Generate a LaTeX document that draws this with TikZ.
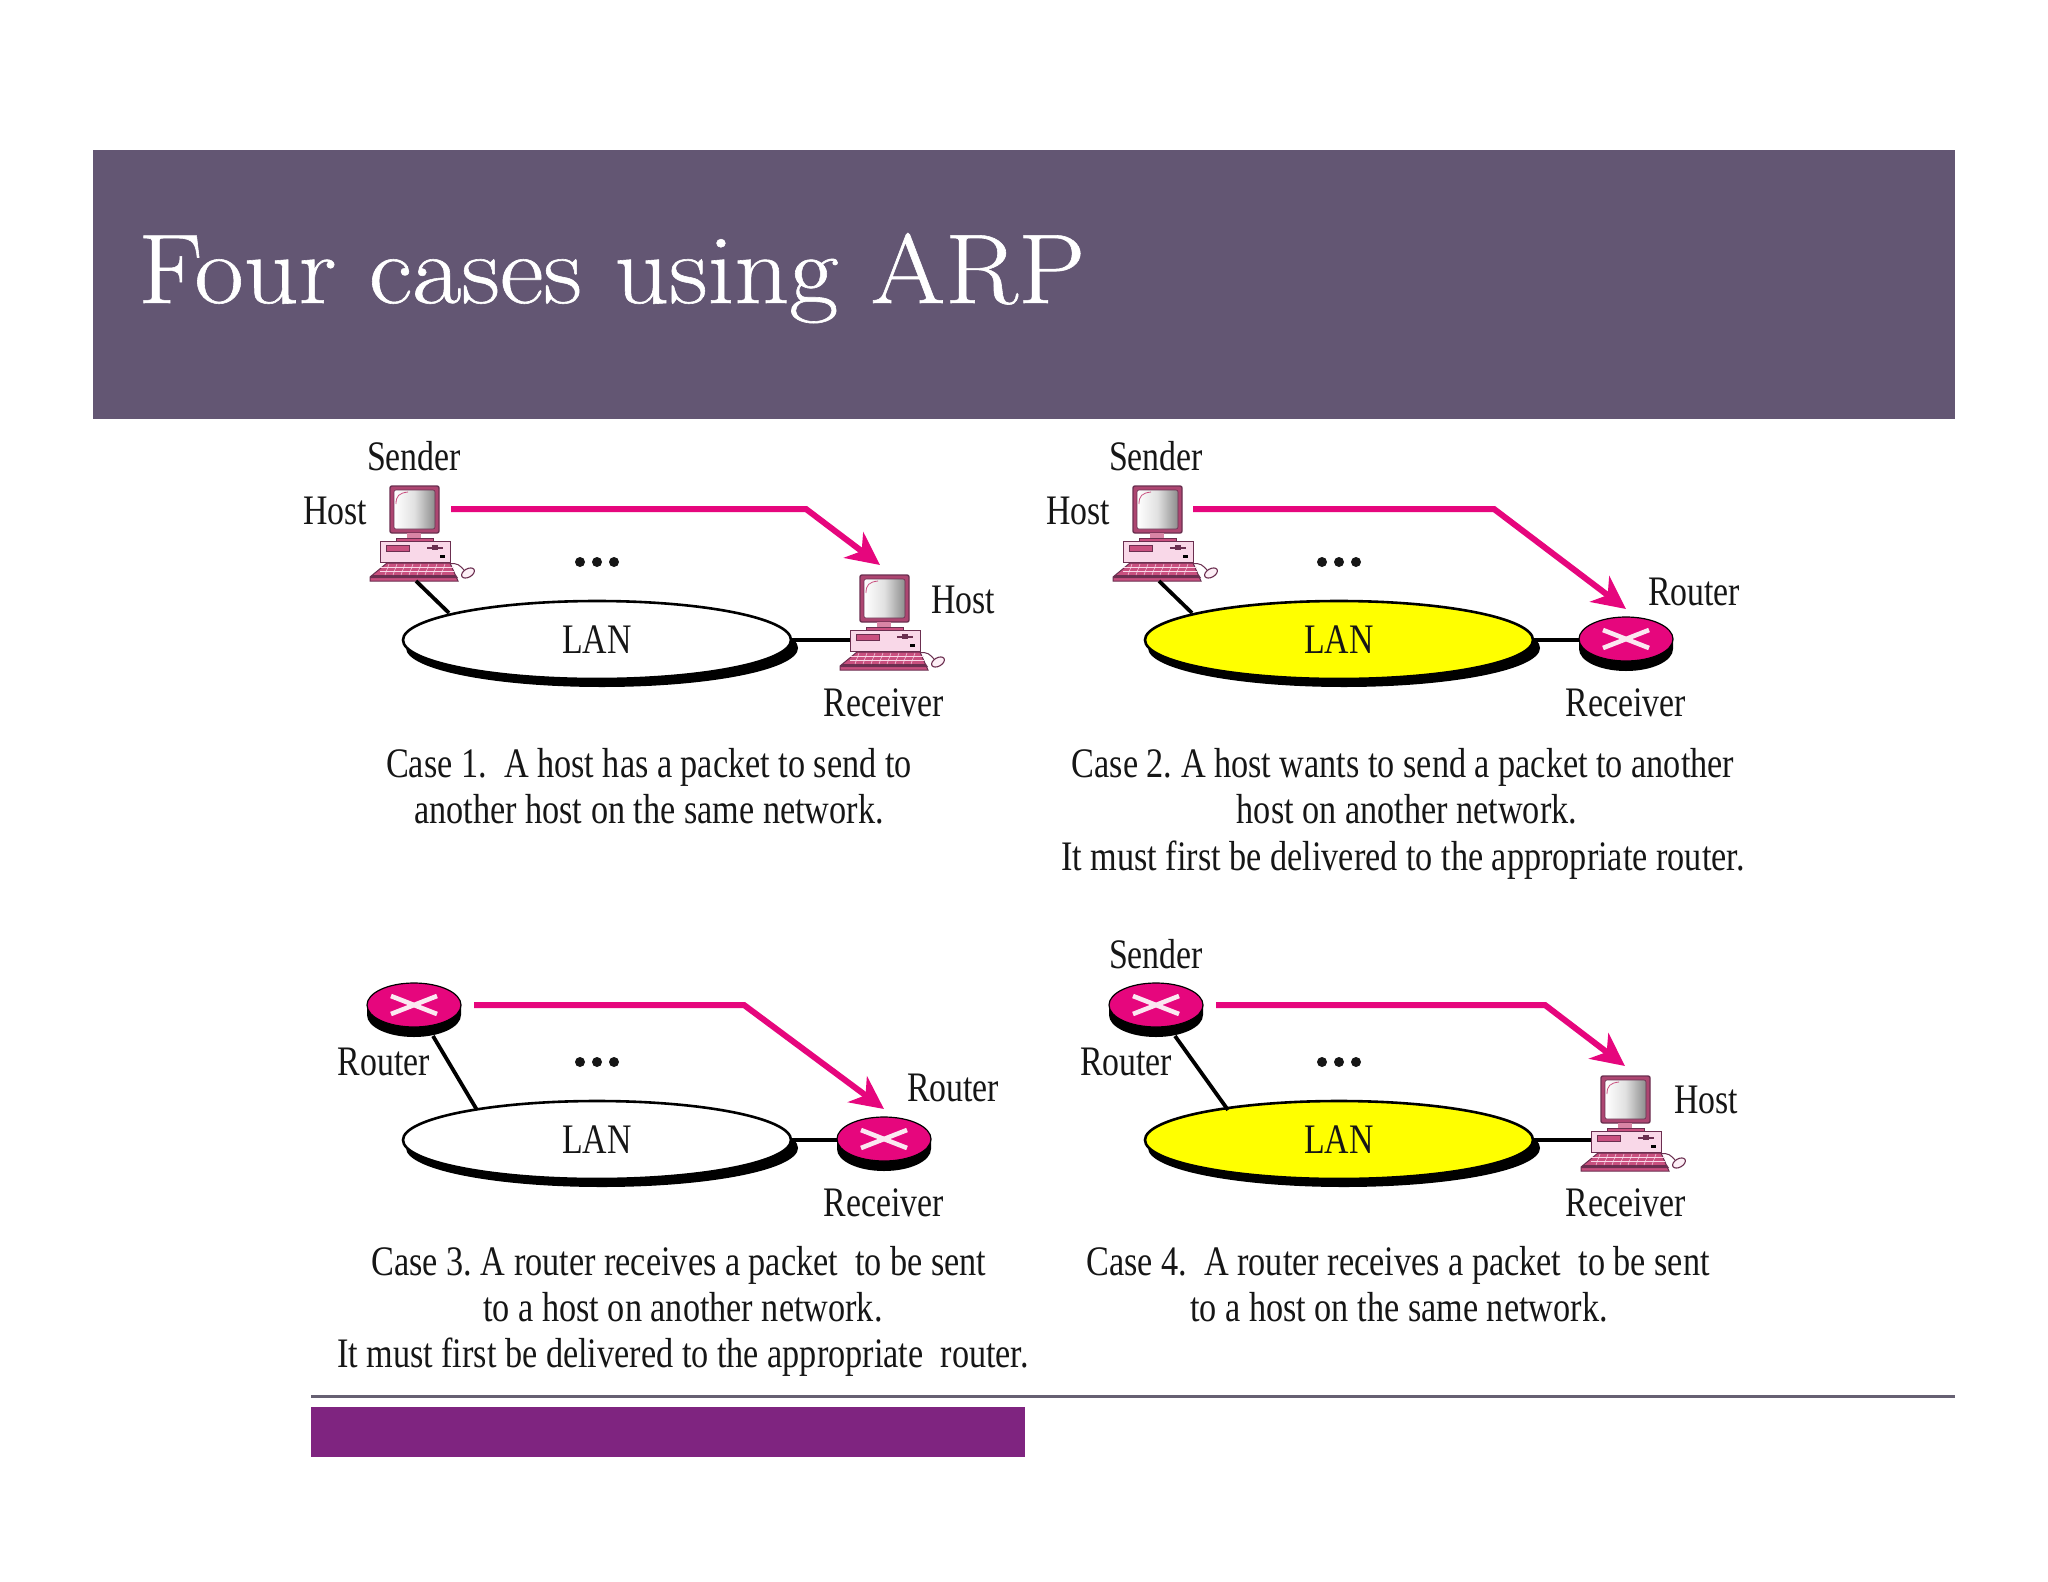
\documentclass[tikz,border=0pt]{standalone}
\usepackage{fontspec}
\usetikzlibrary{arrows.meta,shapes.geometric}
\newfontfamily\bodyf[FakeStretch=0.805]{Liberation Serif}
\newfontfamily\captf[FakeStretch=0.815]{Liberation Serif}
\newfontfamily\titlef[FakeStretch=1.083,FakeBold=0.6]{Latin Modern Roman}
\definecolor{banner}{HTML}{635673}
\definecolor{footbar}{HTML}{7F2480}
\definecolor{footline}{HTML}{666072}
\definecolor{hot}{HTML}{E6067D}
\definecolor{pcline}{HTML}{6B2F50}
\definecolor{pcbody}{HTML}{F9D8E8}
\definecolor{pcdark}{HTML}{C9507F}
\definecolor{ink}{HTML}{161616}
\definecolor{lanyellow}{HTML}{FFFF00}
\tikzset{
  x=1pt,y=-1pt,
  lbl/.style={font=\bodyf\fontsize{42}{46}\selectfont,text=ink,anchor=base,inner sep=0pt},
  captext/.style={font=\captf\fontsize{42}{46}\selectfont\frenchspacing,text=ink,anchor=base,inner sep=0pt},
  lanw/.style={ellipse,draw=black,line width=2.6pt,fill=white,minimum width=388pt,minimum height=78pt,inner sep=0pt,
     font=\bodyf\fontsize{42}{46}\selectfont,text=ink},
  lany/.style={lanw,fill=lanyellow},
  lanshadow/.style={ellipse,fill=black,minimum width=392pt,minimum height=78pt,inner sep=0pt},
  wire/.style={draw=black,line width=3.8pt},
  send/.style={draw=hot,line width=6pt,-{Stealth[length=33pt,width=32pt,inset=10pt]},line join=miter},
  computer/.pic={
    % mouse and cable
    \draw[pcline,line width=1pt] (58,78) .. controls (68,76) and (70,80) .. (74,84);
    \draw[pcline,line width=1.1pt,fill=pcbody!40] (78,87) ellipse [x radius=7,y radius=4.2,rotate=30];
    % monitor
    \draw[pcline,line width=1.4pt,fill=pcdark!70!pcline,rounded corners=2pt] (0,0) rectangle (49,47);
    \draw[pcline,line width=.6pt,left color=white,right color=black!45,middle color=black!12,rounded corners=2pt] (4,4) rectangle (45,43);
    \draw[pcdark,line width=.8pt] (6,18) .. controls (6,10) and (9,7) .. (18,6);
    \fill[pcdark!70] (17,47) rectangle (31,52);
    \draw[pcline,line width=.8pt,fill=pcdark] (6,52) rectangle (43,55);
    % case
    \draw[pcline,line width=1pt,fill=pcbody] (-10,55) rectangle (60,76);
    \draw[pcline,line width=.6pt,fill=pcdark] (-4,59) rectangle (19,65);
    \fill[pcline] (37,60.5) rectangle (53,62.5);
    \fill[pcline] (42,59) rectangle (48,64);
    \fill[black] (50,69) rectangle (55,72);
    % keyboard
    \draw[pcline,line width=1pt,fill=pcdark] (-3,77) -- (60,77) -- (68,95) -- (-20,95) -- (-20,91) -- cycle;
    \fill[pcline] (-18,89) -- (66,89) -- (68,92) -- (-20,92) -- cycle;
    \foreach \kv in {81,85}{\draw[pcbody,line width=.6pt] (-10,\kv) -- (64,\kv);}
    \foreach \kx in {0,8,...,56}{\draw[pcbody,line width=.5pt] (\kx-1,78) -- (\kx-5,89);}
    \coordinate (-bot) at (26,95);
    \coordinate (-left) at (-10,65);
    \coordinate (-top) at (20,-10);
  },
  router/.pic={
    \fill[black] (-47,0) -- (-47,10) arc[start angle=180,end angle=360,x radius=47,y radius=-22] -- (47,0) -- cycle;
    \draw[black,line width=1.2pt,fill=hot] (0,0) ellipse [x radius=47,y radius=22];
    \draw[pcbody!60,line width=4.6pt] (-23,-9) -- (23,9) (-23,9) -- (23,-9);
    \coordinate (-left) at (-47,0);
    \coordinate (-bot) at (19,31);
  },
}
\begin{document}
\begin{tikzpicture}
\useasboundingbox (0,0) rectangle (2048,1582);
\fill[white] (0,0) rectangle (2048,1582);
% slide frame
\node[fill=banner,minimum width=1862pt,minimum height=269pt,inner sep=0pt,anchor=north west] (header) at (93,150) {};
\node[anchor=base west,inner sep=0pt,text=white,font=\titlef\fontsize{99}{110}\selectfont] (title) at (138,303) {Four cases using ARP};
\coordinate (fl) at (311,1396);
\coordinate (fr) at (1955,1396);
\draw[footline,line width=3pt] (fl) -- (fr);
\node[fill=footbar,minimum width=714pt,minimum height=50pt,inner sep=0pt,anchor=north west] (footer) at (310.5,1407) {};

% LAN shadows and LANs
\node[lanshadow] (sh1) at (602,648) {};
\node[lanshadow] (sh2) at (1344,648) {};
\node[lanshadow] (sh3) at (602,1148) {};
\node[lanshadow] (sh4) at (1344,1148) {};

% devices
\pic (c1s) at (390,486) {computer};
\pic (c1r) at (860,575) {computer};
\pic (c2s) at (1133,486) {computer};
\pic (c2r) at (1626,639) {router};
\pic (c3s) at (414,1005) {router};
\pic (c3r) at (884,1139) {router};
\pic (c4s) at (1156,1005) {router};
\pic (c4r) at (1601,1076) {computer};

\node[lanw] (lan1) at (597,640) {\raisebox{-3pt}{LAN}};
\node[lany] (lan2) at (1339,640) {\raisebox{-3pt}{LAN}};
\node[lanw] (lan3) at (597,1140) {\raisebox{-3pt}{LAN}};
\node[lany] (lan4) at (1339,1140) {\raisebox{-3pt}{LAN}};

\coordinate (w1) at (449,613);
\coordinate (w2) at (1192,613);
\coordinate (w3) at (477,1110);
\coordinate (w4) at (1228,1110);
\draw[wire] (c1s-bot) -- (w1);
\draw[wire] (c2s-bot) -- (w2);
\draw[wire] (c3s-bot) -- (w3);
\draw[wire] (c4s-bot) -- (w4);
\draw[wire] (lan1.east) -- (c1r-left |- lan1.east);
\draw[wire] (lan2.east) -- (c2r-left |- lan2.east);
\draw[wire] (lan3.east) -- (c3r-left |- lan3.east);
\draw[wire] (lan4.east) -- (c4r-left |- lan4.east);

% arrows
\coordinate (a1s) at (451,509); \coordinate (a1m) at (806,509); \coordinate (a1t) at (880,565);
\coordinate (a2s) at (1193,509); \coordinate (a2m) at (1494,509); \coordinate (a2t) at (1626,609);
\coordinate (a3s) at (474,1005); \coordinate (a3m) at (744,1005); \coordinate (a3t) at (884,1109);
\coordinate (a4s) at (1216,1005); \coordinate (a4m) at (1545,1005); \coordinate (a4t) at (1625,1066);
\draw[send] (a1s) -- (a1m) -- (a1t);
\draw[send] (a2s) -- (a2m) -- (a2t);
\draw[send] (a3s) -- (a3m) -- (a3t);
\draw[send] (a4s) -- (a4m) -- (a4t);

% ellipsis dots
\foreach \dx/\dy in {597/562,1339/562,597/1062,1339/1062}{
  \fill[ink] (\dx-17,\dy) circle (5) (\dx,\dy) circle (5) (\dx+17,\dy) circle (5);
}

% labels
\node[lbl] (t1a) at (414,470) {Sender};
\node[lbl] (t1b) at (335,524) {Host};
\node[lbl] (t1c) at (963,613) {Host};
\node[lbl] (t1d) at (884,716) {Receiver};
\node[lbl] (t2a) at (1156,470) {Sender};
\node[lbl] (t2b) at (1078,524) {Host};
\node[lbl] (t2c) at (1694,605) {Router};
\node[lbl] (t2d) at (1626,716) {Receiver};
\node[lbl] (t3a) at (384,1075) {Router};
\node[lbl] (t3b) at (953,1101) {Router};
\node[lbl] (t3c) at (884,1216) {Receiver};
\node[lbl] (t4a) at (1156,968) {Sender};
\node[lbl] (t4b) at (1126,1075) {Router};
\node[lbl] (t4c) at (1706,1113) {Host};
\node[lbl] (t4d) at (1626,1216) {Receiver};

% captions
\node[captext] (k1a) at (649,777) {Case 1.\ \ A host has a packet to send to};
\node[captext] (k1b) at (649,823) {another host on the same network.};
\node[captext] (k2a) at (1403,777) {Case 2. A host wants to send a packet to another};
\node[captext] (k2b) at (1407,823) {host on another network.};
\node[captext] (k2c) at (1403,870) {It must first be delivered to the appropriate router.};
\node[captext] (k3a) at (679,1275) {Case 3. A router receives a packet\ \ to be sent};
\node[captext] (k3b) at (683,1321) {to a host on another network.};
\node[captext] (k3c) at (683,1367) {It must first be delivered to the appropriate\ \ router.};
\node[captext] (k4a) at (1398,1275) {Case 4.\ \ A router receives a packet\ \ to be sent};
\node[captext] (k4b) at (1399,1321) {to a host on the same network.};
\end{tikzpicture}
\end{document}
